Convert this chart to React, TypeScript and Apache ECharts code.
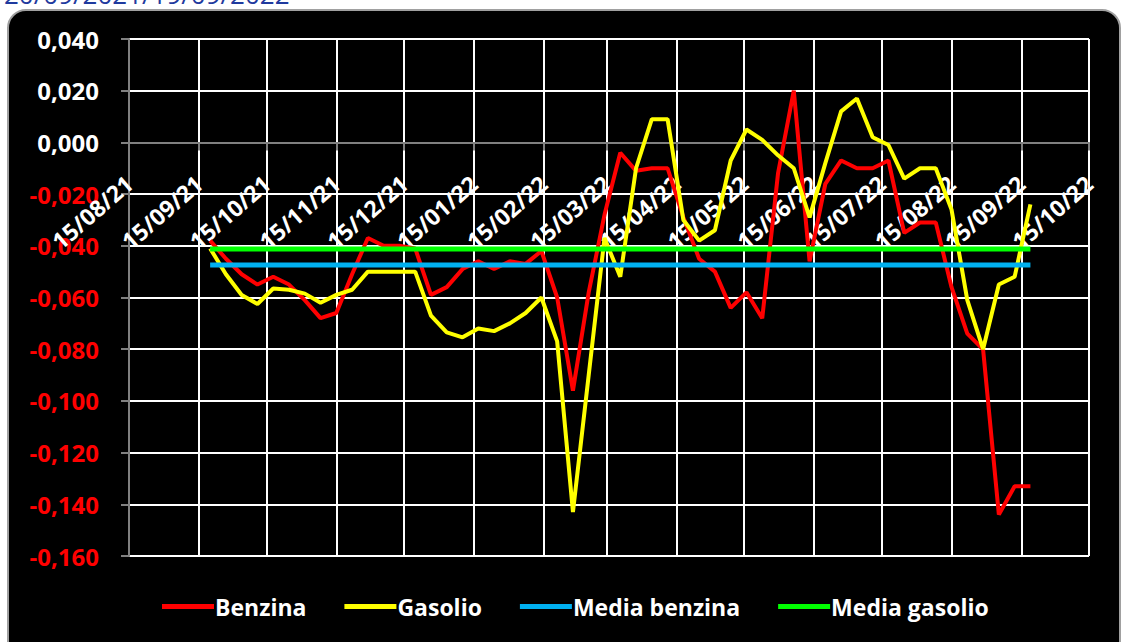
import React, { useEffect, useRef } from 'react';
import * as echarts from 'echarts';

const dates = [
  '2021-09-20', '2021-09-27', '2021-10-04', '2021-10-11', '2021-10-18', '2021-10-25',
  '2021-11-01', '2021-11-08', '2021-11-15', '2021-11-22', '2021-11-29',
  '2021-12-06', '2021-12-13', '2021-12-20', '2021-12-27',
  '2022-01-03', '2022-01-10', '2022-01-17', '2022-01-24', '2022-01-31',
  '2022-02-07', '2022-02-14', '2022-02-21', '2022-02-28',
  '2022-03-07', '2022-03-14', '2022-03-21', '2022-03-28',
  '2022-04-04', '2022-04-11', '2022-04-18', '2022-04-25',
  '2022-05-02', '2022-05-09', '2022-05-16', '2022-05-23', '2022-05-30',
  '2022-06-06', '2022-06-13', '2022-06-20', '2022-06-27',
  '2022-07-04', '2022-07-11', '2022-07-18', '2022-07-25',
  '2022-08-01', '2022-08-08', '2022-08-15', '2022-08-22', '2022-08-29',
  '2022-09-05', '2022-09-12', '2022-09-19',
];

const benzina = [
  -0.038, -0.045, -0.051, -0.055, -0.052, -0.055, -0.061, -0.068, -0.066, -0.051,
  -0.037, -0.040, -0.040, -0.041, -0.059, -0.056, -0.049, -0.046, -0.049, -0.046,
  -0.047, -0.042, -0.060, -0.096, -0.058, -0.028, -0.004, -0.011, -0.010, -0.010,
  -0.029, -0.045, -0.050, -0.064, -0.058, -0.068, -0.012, 0.020, -0.046, -0.016,
  -0.007, -0.010, -0.010, -0.007, -0.035, -0.031, -0.031, -0.056, -0.074, -0.080,
  -0.144, -0.133, -0.133,
];

const gasolio = [
  -0.041, -0.051, -0.059, -0.0625, -0.0565, -0.057, -0.0585, -0.062, -0.059, -0.057,
  -0.050, -0.050, -0.050, -0.050, -0.067, -0.0735, -0.0754, -0.072, -0.073, -0.070,
  -0.066, -0.060, -0.077, -0.143, -0.090, -0.037, -0.052, -0.010, 0.009, 0.009,
  -0.030, -0.038, -0.034, -0.007, 0.005, 0.001, -0.005, -0.010, -0.029, -0.008,
  0.012, 0.017, 0.002, -0.001, -0.014, -0.010, -0.010, -0.026, -0.061, -0.080,
  -0.055, -0.052, -0.024,
];

const mediaBenzina = -0.0474;
const mediaGasolio = -0.0412;

const tickDates = [
  '2021-08-15', '2021-09-15', '2021-10-15', '2021-11-15', '2021-12-15',
  '2022-01-15', '2022-02-15', '2022-03-15', '2022-04-15', '2022-05-15',
  '2022-06-15', '2022-07-15', '2022-08-15', '2022-09-15', '2022-10-15',
];

const seriesNames = ['Benzina', 'Gasolio', 'Media benzina', 'Media gasolio'];
const seriesColors = ['#FF0000', '#FFFF00', '#00B0F0', '#00FF00'];
const titleText = '20/09/2021/19/09/2022';

const toMs = (s: string) => Date.parse(s + 'T00:00:00Z');
const pad = (n: number) => (n < 10 ? '0' + n : '' + n);
const fmtDate = (v: number) => {
  const d = new Date(v);
  return pad(d.getUTCDate()) + '/' + pad(d.getUTCMonth() + 1) + '/' + pad(d.getUTCFullYear() % 100);
};
const fmtVal = (v: number) => {
  const x = Math.abs(v) < 1e-9 ? 0 : v;
  return x.toFixed(3).replace('.', ',');
};

export default function App() {
  const ref = useRef<HTMLDivElement>(null);
  useEffect(() => {
    if (!ref.current) return;
    const chart = echarts.init(ref.current, undefined, { renderer: 'svg' });
    const xs = dates.map(toMs);
    const ticks = tickDates.map(toMs);
    const first = xs[0];
    const last = xs[xs.length - 1];
    const font = 'Open Sans';
    chart.setOption({
      animation: false,
      graphic: [
        {
          type: 'rect',
          z: -10,
          shape: { x: 8, y: 10, width: 1112, height: 660, r: 18 },
          style: { fill: '#000000', stroke: '#A0A0A0', lineWidth: 2 },
        },
        {
          type: 'text',
          x: 4,
          y: 7,
          style: {
            text: titleText,
            fill: '#1F3A9E',
            fontSize: 26,
            fontFamily: font,
            verticalAlign: 'bottom',
          },
        },
      ],
      grid: { left: 129, right: 39, top: 39, bottom: 86, containLabel: false, outerBoundsMode: 'none' },
      legend: {
        left: 157,
        top: 590,
        icon: 'rect',
        itemWidth: 52,
        itemHeight: 5,
        itemGap: 38,
        data: seriesNames,
        textStyle: {
          color: '#FFFFFF',
          fontSize: 23,
          fontWeight: 'bold',
          fontFamily: font,
          padding: [0, 0, 0, -4],
        },
      },
      xAxis: {
        type: 'value',
        min: ticks[0],
        max: ticks[ticks.length - 1],
        axisLine: { onZero: true, lineStyle: { color: '#808080', width: 2 } },
        axisTick: {
          show: true,
          customValues: ticks,
          length: 8,
          lineStyle: { color: '#808080', width: 2 },
        },
        axisLabel: {
          customValues: ticks,
          rotate: 41,
          margin: -376,
          color: '#FFFFFF',
          fontWeight: 'bold',
          fontSize: 23,
          fontFamily: font,
          formatter: (v: number) => fmtDate(v),
          hideOverlap: false,
        },
        splitLine: { show: true, lineStyle: { color: '#FFFFFF', width: 2 } },
      },
      yAxis: {
        type: 'value',
        min: -0.16,
        max: 0.04,
        interval: 0.02,
        axisLine: { show: true, lineStyle: { color: '#808080', width: 2 } },
        axisTick: { show: true, length: 8, lineStyle: { color: '#808080', width: 2 } },
        axisLabel: {
          margin: 30,
          fontSize: 24,
          fontWeight: 'bold',
          fontFamily: font,
          color: (v: any) => (Number(v) < -1e-9 ? '#FF0000' : '#FFFFFF'),
          formatter: (v: number) => fmtVal(v),
        },
        splitLine: { show: true, lineStyle: { color: '#FFFFFF', width: 2 } },
      },
      series: [
        {
          name: seriesNames[0],
          type: 'line',
          showSymbol: false,
          symbol: 'none',
          data: xs.map((x, i) => [x, benzina[i]]),
          lineStyle: { color: seriesColors[0], width: 4 },
          itemStyle: { color: seriesColors[0] },
        },
        {
          name: seriesNames[1],
          type: 'line',
          showSymbol: false,
          symbol: 'none',
          data: xs.map((x, i) => [x, gasolio[i]]),
          lineStyle: { color: seriesColors[1], width: 4 },
          itemStyle: { color: seriesColors[1] },
        },
        {
          name: seriesNames[2],
          type: 'line',
          showSymbol: false,
          symbol: 'none',
          data: [[first, mediaBenzina], [last, mediaBenzina]],
          lineStyle: { color: seriesColors[2], width: 5 },
          itemStyle: { color: seriesColors[2] },
        },
        {
          name: seriesNames[3],
          type: 'line',
          showSymbol: false,
          symbol: 'none',
          data: [[first, mediaGasolio], [last, mediaGasolio]],
          lineStyle: { color: seriesColors[3], width: 5 },
          itemStyle: { color: seriesColors[3] },
        },
      ],
    });
    return () => chart.dispose();
  }, []);
  return (
    <div
      ref={ref}
      style={{ position: 'fixed', left: 0, top: 0, width: 1128, height: 642, background: '#FFFFFF' }}
    />
  );
}
